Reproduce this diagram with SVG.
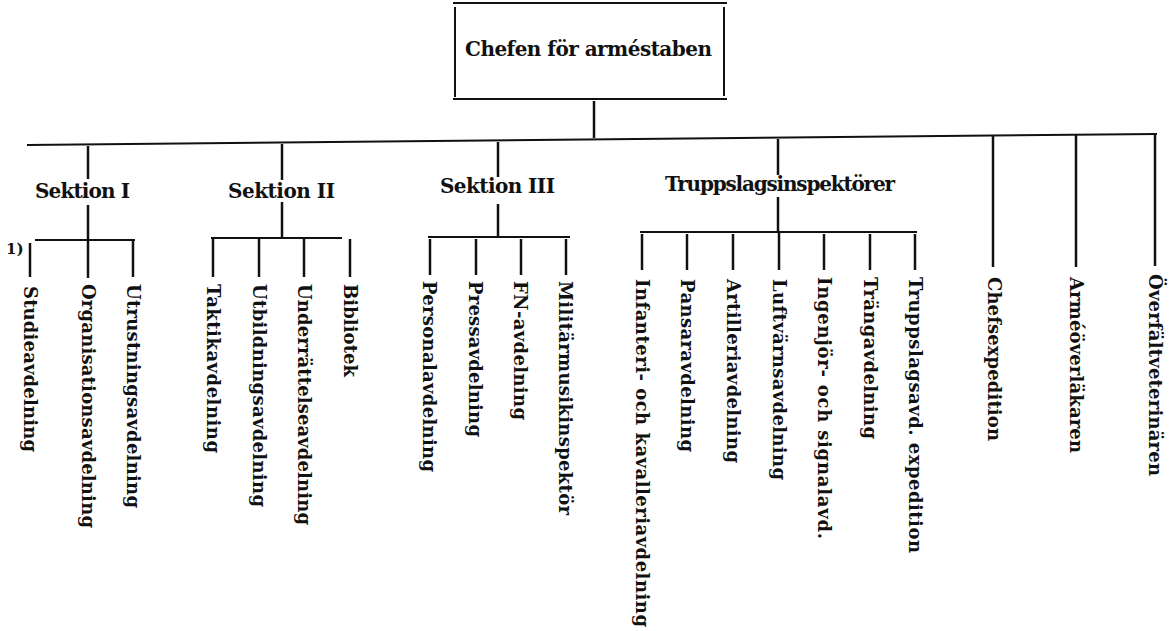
<svg xmlns="http://www.w3.org/2000/svg" width="1169" height="631" viewBox="0 0 1169 631">
<style>
  .h { font-family: "DejaVu Serif", "Liberation Serif", serif; font-weight: bold; font-size: 20px; fill: #111; }
  .v { font-family: "DejaVu Serif", "Liberation Serif", serif; font-weight: bold; font-size: 18px; fill: #111; }
  .n { font-family: "DejaVu Serif", "Liberation Serif", serif; font-weight: bold; font-size: 15px; fill: #111; }
  .ln { stroke: #111; stroke-width: 2; fill: none; }
  .vl { stroke: #111; stroke-width: 2.5; fill: none; }
</style>
<rect width="1169" height="631" fill="#ffffff"/>

<g id="connectors">
  <line class="vl" x1="594" y1="101" x2="594" y2="138"/>
  <line class="ln" x1="27" y1="145" x2="1157" y2="134"/>
  <!-- Sektion I -->
  <line class="vl" x1="88" y1="146" x2="88" y2="179"/>
  <line class="vl" x1="88" y1="205" x2="88" y2="240"/>
  <line class="ln" x1="35" y1="240" x2="135" y2="240"/>
  <line class="vl" x1="30" y1="243" x2="30" y2="277"/>
  <line class="vl" x1="88" y1="240" x2="88" y2="278"/>
  <line class="vl" x1="133" y1="241" x2="133" y2="277"/>
  <!-- Sektion II -->
  <line class="vl" x1="282" y1="144" x2="282" y2="180"/>
  <line class="vl" x1="282" y1="202" x2="282" y2="238"/>
  <line class="ln" x1="211" y1="238" x2="342" y2="238"/>
  <line class="vl" x1="213" y1="239" x2="213" y2="277"/>
  <line class="vl" x1="259" y1="239" x2="259" y2="277"/>
  <line class="vl" x1="304" y1="239" x2="304" y2="277"/>
  <line class="vl" x1="350" y1="239" x2="350" y2="277"/>
  <!-- Sektion III -->
  <line class="vl" x1="498" y1="142" x2="498" y2="177"/>
  <line class="vl" x1="498" y1="204" x2="498" y2="237"/>
  <line class="ln" x1="428" y1="237" x2="570" y2="237"/>
  <line class="vl" x1="430" y1="239" x2="430" y2="275"/>
  <line class="vl" x1="476" y1="239" x2="476" y2="275"/>
  <line class="vl" x1="521" y1="239" x2="521" y2="275"/>
  <line class="vl" x1="566" y1="239" x2="566" y2="275"/>
  <!-- Truppslagsinspektörer -->
  <line class="vl" x1="778" y1="139" x2="778" y2="175"/>
  <line class="vl" x1="778" y1="197" x2="778" y2="232"/>
  <line class="ln" x1="640" y1="232" x2="917" y2="232"/>
  <line class="vl" x1="642" y1="234" x2="642" y2="270"/>
  <line class="vl" x1="687" y1="234" x2="687" y2="270"/>
  <line class="vl" x1="733" y1="234" x2="733" y2="270"/>
  <line class="vl" x1="779" y1="232" x2="779" y2="270"/>
  <line class="vl" x1="824" y1="234" x2="824" y2="270"/>
  <line class="vl" x1="870" y1="234" x2="870" y2="270"/>
  <line class="vl" x1="915" y1="234" x2="915" y2="270"/>
  <!-- right -->
  <line class="vl" x1="993" y1="136" x2="993" y2="267"/>
  <line class="vl" x1="1076" y1="135" x2="1076" y2="267"/>
  <line class="vl" x1="1155" y1="134" x2="1155" y2="266"/>
</g>

<g id="chef">
  <line class="ln" x1="453" y1="3" x2="727" y2="3"/>
  <line class="ln" x1="453" y1="99" x2="727" y2="99"/>
  <line class="ln" x1="455" y1="7" x2="455" y2="97"/>
  <line class="ln" x1="724" y1="7" x2="724" y2="96"/>
  <text class="h" x="465" y="56" textLength="247" lengthAdjust="spacing">Chefen för arméstaben</text>
</g>

<g id="sektion1"><text class="h" x="35" y="198" textLength="95" lengthAdjust="spacing">Sektion I</text></g>
<g id="sektion2"><text class="h" x="228" y="198" textLength="107" lengthAdjust="spacing">Sektion II</text></g>
<g id="sektion3"><text class="h" x="440" y="193" textLength="115" lengthAdjust="spacing">Sektion III</text></g>
<g id="truppslag"><text class="h" x="665" y="191" textLength="230" lengthAdjust="spacing">Truppslagsinspektörer</text></g>

<g id="note"><text class="n" x="6" y="254">1)</text></g>

<g id="studie"><text class="v" transform="translate(24,286) rotate(90)" textLength="166" lengthAdjust="spacing">Studieavdelning</text></g>
<g id="organisation"><text class="v" transform="translate(82,284) rotate(90)" textLength="244" lengthAdjust="spacing">Organisationsavdelning</text></g>
<g id="utrustning"><text class="v" transform="translate(127,284) rotate(90)" textLength="224" lengthAdjust="spacing">Utrustningsavdelning</text></g>

<g id="taktik"><text class="v" transform="translate(207,284) rotate(90)" textLength="169" lengthAdjust="spacing">Taktikavdelning</text></g>
<g id="utbildning"><text class="v" transform="translate(253,284) rotate(90)" textLength="223" lengthAdjust="spacing">Utbildningsavdelning</text></g>
<g id="underrattelse"><text class="v" transform="translate(298,284) rotate(90)" textLength="241" lengthAdjust="spacing">Underrättelseavdelning</text></g>
<g id="bibliotek"><text class="v" transform="translate(344,284) rotate(90)" textLength="93" lengthAdjust="spacing">Bibliotek</text></g>

<g id="personal"><text class="v" transform="translate(423,281) rotate(90)" textLength="191" lengthAdjust="spacing">Personalavdelning</text></g>
<g id="press"><text class="v" transform="translate(469,281) rotate(90)" textLength="156" lengthAdjust="spacing">Pressavdelning</text></g>
<g id="fn"><text class="v" transform="translate(514,281) rotate(90)" textLength="139" lengthAdjust="spacing">FN-avdelning</text></g>
<g id="militarmusik"><text class="v" transform="translate(559,281) rotate(90)" textLength="234" lengthAdjust="spacing">Militärmusikinspektör</text></g>

<g id="infanteri"><text class="v" transform="translate(636,279) rotate(90)" textLength="348" lengthAdjust="spacing">Infanteri- och kavalleriavdelning</text></g>
<g id="pansar"><text class="v" transform="translate(681,279) rotate(90)" textLength="173" lengthAdjust="spacing">Pansaravdelning</text></g>
<g id="artilleri"><text class="v" transform="translate(727,279) rotate(90)" textLength="184" lengthAdjust="spacing">Artilleriavdelning</text></g>
<g id="luftvarn"><text class="v" transform="translate(773,279) rotate(90)" textLength="201" lengthAdjust="spacing">Luftvärnsavdelning</text></g>
<g id="ingenjor"><text class="v" transform="translate(818,277) rotate(90)" textLength="262" lengthAdjust="spacing">Ingenjör- och signalavd.</text></g>
<g id="trang"><text class="v" transform="translate(864,277) rotate(90)" textLength="162" lengthAdjust="spacing">Trängavdelning</text></g>
<g id="truppslagsexp"><text class="v" transform="translate(909,277) rotate(90)" textLength="276" lengthAdjust="spacing">Truppslagsavd. expedition</text></g>

<g id="chefsexp"><text class="v" transform="translate(988,277) rotate(90)" textLength="164" lengthAdjust="spacing">Chefsexpedition</text></g>
<g id="armeoverlakaren"><text class="v" transform="translate(1070,277) rotate(90)" textLength="176" lengthAdjust="spacing">Arméöverläkaren</text></g>
<g id="overfaltveterinaren"><text class="v" transform="translate(1149,274) rotate(90)" textLength="202" lengthAdjust="spacing">Överfältveterinären</text></g>
</svg>
